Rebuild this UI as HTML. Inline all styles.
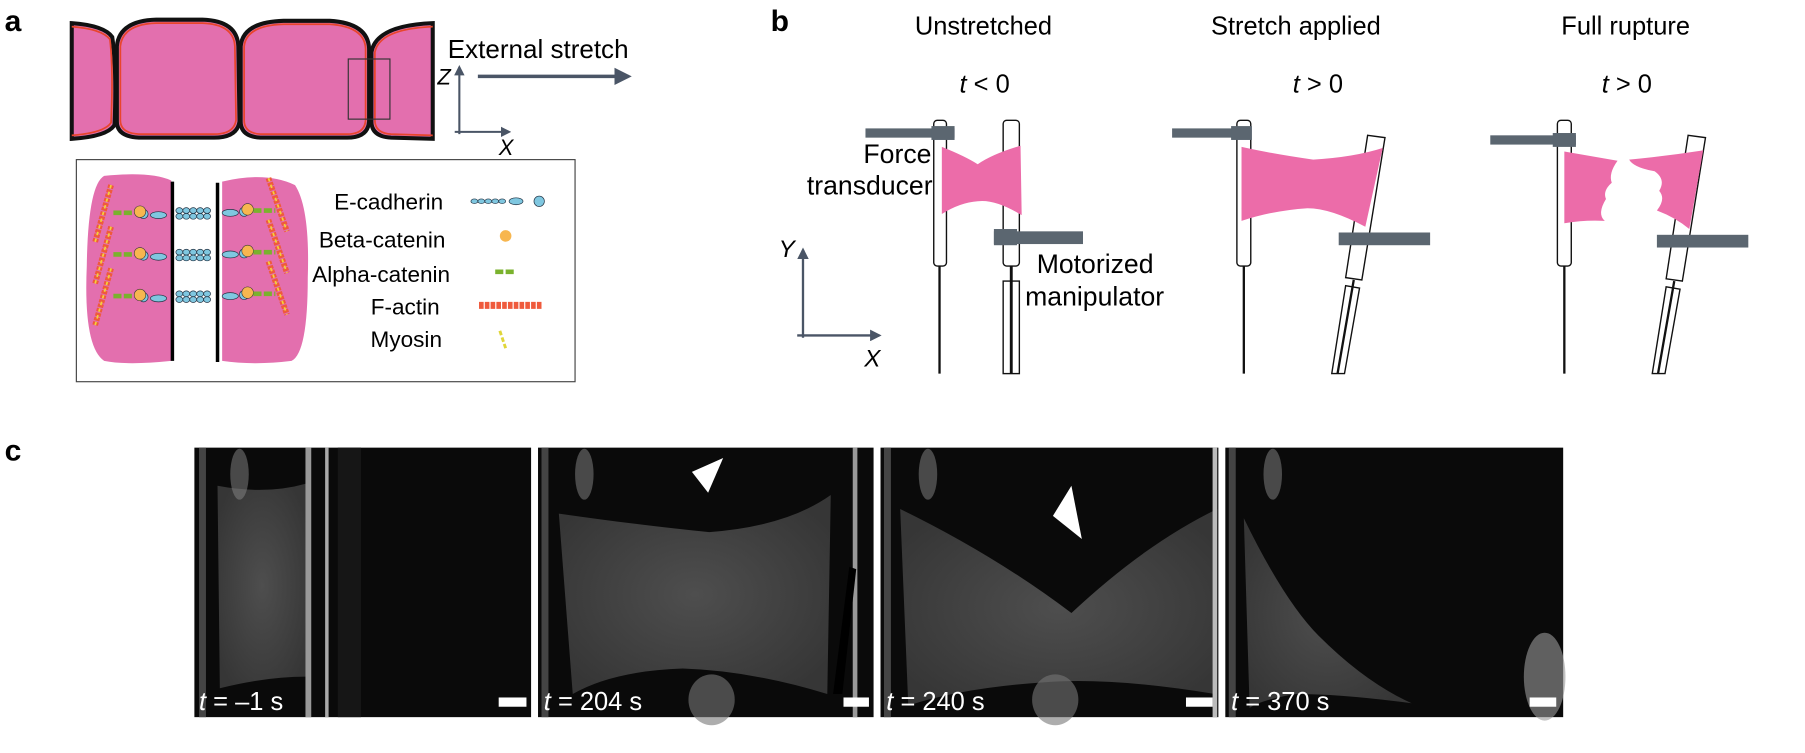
<!DOCTYPE html>
<html><head><meta charset="utf-8"><style>
html,body{margin:0;padding:0;background:#fff;}
svg{display:block;}
text{font-family:"Liberation Sans",sans-serif;}
</style></head><body>
<svg width="1805" height="753" viewBox="0 0 1560 651" preserveAspectRatio="none" xmlns="http://www.w3.org/2000/svg">
<defs>
<marker id="ah" viewBox="0 0 10 10" refX="8" refY="5" markerWidth="5" markerHeight="5" orient="auto"><path d="M0,0 L10,5 L0,10 z" fill="#4a5566"/></marker>
<radialGradient id="mem" cx="50%" cy="50%" r="60%"><stop offset="0" stop-color="#4e4e4e"/><stop offset="1" stop-color="#363636"/></radialGradient>
</defs>
<!-- Panel a -->
<text x="4" y="27" font-size="26" font-weight="bold">a</text>
<g stroke="#111" stroke-width="3.5" fill="#e36fae">
<path d="M62,20 Q90,22 97,32 Q101,60 99,108 Q93,118 62,120 Z"/>
<path d="M101,40 Q103,18 135,17 L175,17 Q205,18 206,40 L207,105 Q205,119 185,119 L120,119 Q101,118 101,105 Z"/>
<path d="M208,40 Q210,19 245,18 L285,18 Q318,20 319,42 L319,105 Q318,119 300,119 L225,119 Q208,118 208,105 Z"/>
<path d="M321,45 Q325,22 374,20 L374,120 L338,119 Q321,118 321,105 Z"/>
</g>
<g stroke="#e8452c" stroke-width="1.5" fill="none">
<path d="M62,23 Q88,25 95,34 Q98,60 96,106 Q90,115 62,117"/>
<path d="M104,40 Q106,21 135,20 L175,20 Q202,21 203,40 L204,104 Q202,116 185,116 L120,116 Q104,115 104,104 Z"/>
<path d="M211,40 Q213,22 245,21 L285,21 Q315,23 316,42 L316,104 Q315,116 300,116 L225,116 Q211,115 211,104 Z"/>
<path d="M374,23 Q328,25 324,45 L324,104 Q324,115 338,116 L374,117"/>
</g>
<rect x="301" y="51" width="36" height="52" fill="none" stroke="#333" stroke-width="1"/>
<text x="387" y="50" font-size="22.5">External stretch</text>
<line x1="413" y1="66" x2="543" y2="66" stroke="#4a5566" stroke-width="3" marker-end="url(#ah)"/>
<line x1="397" y1="116" x2="397" y2="58" stroke="#4a5566" stroke-width="1.8" marker-end="url(#ah)"/>
<line x1="393" y1="114" x2="440" y2="114" stroke="#4a5566" stroke-width="1.8" marker-end="url(#ah)"/>
<text x="378" y="73" font-size="19" font-style="italic">Z</text>
<text x="431" y="134" font-size="19" font-style="italic">X</text>
<rect x="66" y="138" width="431" height="192" fill="#fff" stroke="#444" stroke-width="1"/>
<path d="M90,152 Q130,148 148,156 L148,312 Q110,316 90,312 Q72,300 75,230 Q76,160 90,152 Z" fill="#e36fae"/>
<path d="M192,157 Q230,148 255,160 Q268,180 266,240 Q266,305 252,312 Q220,316 192,312 Z" fill="#e36fae"/>
<line x1="149" y1="157" x2="149" y2="312" stroke="#000" stroke-width="3"/>
<line x1="188" y1="158" x2="188" y2="313" stroke="#000" stroke-width="3"/>
<g>
<g id="row">
<g fill="#7fc7e0" stroke="#234" stroke-width="0.6">
<ellipse cx="155" cy="182" rx="3" ry="2.5"/><ellipse cx="161" cy="182" rx="3" ry="2.5"/><ellipse cx="167" cy="182" rx="3" ry="2.5"/><ellipse cx="173" cy="182" rx="3" ry="2.5"/><ellipse cx="179" cy="182" rx="3" ry="2.5"/>
<ellipse cx="155" cy="187" rx="3" ry="2.5"/><ellipse cx="161" cy="187" rx="3" ry="2.5"/><ellipse cx="167" cy="187" rx="3" ry="2.5"/><ellipse cx="173" cy="187" rx="3" ry="2.5"/><ellipse cx="179" cy="187" rx="3" ry="2.5"/>
<ellipse cx="137" cy="186" rx="7" ry="3"/><ellipse cx="199" cy="184" rx="7" ry="3"/>
<circle cx="124" cy="185" r="4"/><circle cx="211" cy="183" r="4"/>
</g>
<circle cx="121" cy="183" r="5" fill="#f7b64f" stroke="#333" stroke-width="0.5"/>
<circle cx="214" cy="181" r="5" fill="#f7b64f" stroke="#333" stroke-width="0.5"/>
<line x1="98" y1="184" x2="116" y2="184" stroke="#7ab22d" stroke-width="4" stroke-dasharray="7,2"/>
<line x1="219" y1="182" x2="238" y2="182" stroke="#7ab22d" stroke-width="4" stroke-dasharray="7,2"/>
<line x1="96" y1="160" x2="82" y2="210" stroke="#ef5a3c" stroke-width="5" stroke-dasharray="3,1"/>
<line x1="96" y1="160" x2="82" y2="210" stroke="#f3d23a" stroke-width="1.5" stroke-dasharray="3,3"/>
<line x1="232" y1="154" x2="248" y2="200" stroke="#ef5a3c" stroke-width="5" stroke-dasharray="3,1"/>
<line x1="232" y1="154" x2="248" y2="200" stroke="#f3d23a" stroke-width="1.5" stroke-dasharray="3,3"/>
</g>
<use href="#row" transform="translate(0,36)"/>
<use href="#row" transform="translate(0,72)"/>
</g>
<g font-size="19.5" text-anchor="end">
<text x="383" y="181">E-cadherin</text>
<text x="385" y="214">Beta-catenin</text>
<text x="389" y="244">Alpha-catenin</text>
<text x="380" y="272">F-actin</text>
<text x="382" y="300">Myosin</text>
</g>
<g fill="#7fc7e0" stroke="#234" stroke-width="0.6">
<ellipse cx="410" cy="174" rx="3" ry="2"/><ellipse cx="416" cy="174" rx="3" ry="2"/><ellipse cx="422" cy="174" rx="3" ry="2"/><ellipse cx="428" cy="174" rx="3" ry="2"/><ellipse cx="434" cy="174" rx="3" ry="2"/>
<ellipse cx="446" cy="174" rx="6" ry="3"/><circle cx="466" cy="174" r="4.5"/>
</g>
<circle cx="437" cy="204" r="5" fill="#f7b64f"/>
<line x1="428" y1="235" x2="444" y2="235" stroke="#7ab22d" stroke-width="4" stroke-dasharray="7,2"/>
<line x1="414" y1="264" x2="468" y2="264" stroke="#ef5a3c" stroke-width="6" stroke-dasharray="4,1"/>
<line x1="432" y1="286" x2="437" y2="301" stroke="#e0d63a" stroke-width="2.5" stroke-dasharray="4,2"/>

<!-- Panel b -->
<text x="666" y="27" font-size="26" font-weight="bold">b</text>
<g font-size="22" text-anchor="middle">
<text x="850" y="30">Unstretched</text>
<text x="1120" y="30">Stretch applied</text>
<text x="1405" y="30">Full rupture</text>
<text x="851" y="80"><tspan font-style="italic">t</tspan> &lt; 0</text>
<text x="1139" y="80"><tspan font-style="italic">t</tspan> &gt; 0</text>
<text x="1406" y="80"><tspan font-style="italic">t</tspan> &gt; 0</text>
</g>
<g fill="none" stroke="#111" stroke-width="1.2">
<rect x="807" y="104" width="11" height="126" rx="3"/>
<line x1="812" y1="230" x2="812" y2="323" stroke-width="2"/>
<rect x="867" y="104" width="14" height="126" rx="3"/>
<rect x="867" y="243" width="14" height="80"/>
<line x1="874" y1="230" x2="874" y2="323" stroke-width="2.5"/>
<rect x="1069" y="104" width="12" height="126" rx="3"/>
<line x1="1075" y1="230" x2="1075" y2="323" stroke-width="2"/>
<rect x="1346" y="104" width="12" height="126" rx="3"/>
<line x1="1352" y1="230" x2="1352" y2="323" stroke-width="2"/>
<path d="M1182,117 L1197,119 L1177,242 L1163,240 Z"/>
<path d="M1163,247 L1175,249 L1162,323 L1151,323 Z"/>
<line x1="1170" y1="242" x2="1156" y2="323" stroke-width="2"/>
<path d="M1459,117 L1474,119 L1454,243 L1440,241 Z"/>
<path d="M1440,248 L1452,250 L1439,323 L1428,323 Z"/>
<line x1="1447" y1="243" x2="1433" y2="323" stroke-width="2"/>
</g>
<path d="M814,127 Q834,135 845,142 Q858,133 882,126 L883,186 Q860,172 845,174 Q830,175 814,185 Z" fill="#ec6ca9"/>
<path d="M1073,127 Q1100,133 1135,138 Q1170,136 1195,128 L1180,196 Q1150,180 1130,180 Q1100,182 1073,191 Z" fill="#ec6ca9"/>
<path d="M1352,131 Q1375,135 1398,139 Q1390,150 1393,158 Q1385,165 1388,172 Q1380,185 1387,191 Q1370,190 1352,193 Z" fill="#ec6ca9"/>
<path d="M1408,138 Q1440,135 1472,130 L1460,198 Q1448,188 1432,182 Q1440,172 1434,165 Q1440,155 1430,148 Q1412,145 1408,138 Z" fill="#ec6ca9"/>
<g fill="#5b6670">
<rect x="748" y="111" width="77" height="8"/><rect x="805" y="109" width="20" height="12"/>
<rect x="859" y="200" width="77" height="11"/><rect x="859" y="198" width="20" height="14"/>
<rect x="1013" y="111" width="68" height="8"/><rect x="1064" y="109" width="18" height="12"/>
<rect x="1157" y="201" width="79" height="11"/>
<rect x="1288" y="117" width="74" height="8"/><rect x="1342" y="115" width="20" height="12"/>
<rect x="1432" y="203" width="79" height="11"/>
</g>
<g font-size="23">
<text x="805" y="141" text-anchor="end">Force</text>
<text x="806" y="168" text-anchor="end">transducer</text>
<text x="896" y="236">Motorized</text>
<text x="886" y="264">manipulator</text>
</g>
<line x1="694" y1="292" x2="694" y2="216" stroke="#4a5566" stroke-width="2" marker-end="url(#ah)"/>
<line x1="689" y1="290" x2="760" y2="290" stroke="#4a5566" stroke-width="2" marker-end="url(#ah)"/>
<text x="673" y="222" font-size="21" font-style="italic">Y</text>
<text x="747" y="317" font-size="21" font-style="italic">X</text>

<!-- Panel c -->
<text x="4" y="398" font-size="26" font-weight="bold">c</text>
<g>
<rect x="168" y="387" width="291" height="233" fill="#0a0a0a"/>
<rect x="465" y="387" width="290" height="233" fill="#0a0a0a"/>
<rect x="761" y="387" width="292" height="233" fill="#0a0a0a"/>
<rect x="1059" y="387" width="292" height="233" fill="#0a0a0a"/>
<!-- frame 1 -->
<path d="M188,420 Q230,428 265,418 L265,585 Q230,585 190,595 Z" fill="url(#mem)"/>
<rect x="172" y="387" width="6" height="233" fill="#444"/>
<rect x="264" y="387" width="5" height="233" fill="#999"/>
<rect x="281" y="387" width="3" height="233" fill="#aaa"/>
<rect x="292" y="387" width="20" height="233" fill="#161616"/>
<ellipse cx="207" cy="410" rx="8" ry="22" fill="#888" opacity="0.5"/>
<!-- frame 2 -->
<path d="M483,444 Q560,455 613,460 Q680,455 718,428 L715,600 Q650,580 590,578 Q530,580 495,600 Z" fill="url(#mem)"/>
<rect x="468" y="387" width="6" height="233" fill="#444"/>
<rect x="737" y="387" width="4" height="233" fill="#999"/>
<path d="M720,600 L734,490 L740,492 L728,600 Z" fill="#000"/>
<ellipse cx="615" cy="605" rx="20" ry="22" fill="#777" opacity="0.6"/>
<ellipse cx="505" cy="410" rx="8" ry="22" fill="#888" opacity="0.5"/>
<!-- frame 3 -->
<path d="M778,440 Q860,480 926,530 Q990,470 1052,440 L1050,600 Q960,585 900,590 Q830,595 785,610 Z" fill="url(#mem)"/>
<rect x="764" y="387" width="6" height="233" fill="#444"/>
<rect x="1048" y="387" width="4" height="233" fill="#bbb"/>
<ellipse cx="912" cy="605" rx="20" ry="22" fill="#777" opacity="0.6"/>
<ellipse cx="802" cy="410" rx="8" ry="22" fill="#888" opacity="0.5"/>
<!-- frame 4 -->
<path d="M1075,448 Q1110,520 1140,550 Q1180,590 1220,608 Q1160,600 1120,600 Q1090,605 1080,612 Z" fill="url(#mem)"/>
<rect x="1062" y="387" width="6" height="233" fill="#444"/>
<ellipse cx="1335" cy="585" rx="18" ry="38" fill="#999" opacity="0.6"/>
<ellipse cx="1100" cy="410" rx="8" ry="22" fill="#888" opacity="0.5"/>
<!-- arrowheads -->
<path d="M598,408 L625,396 L612,426 Z" fill="#fff"/>
<path d="M910,446 L926,420 L935,466 Z" fill="#fff"/>
<g fill="#fff" font-size="22">
<text x="172" y="614"><tspan font-style="italic">t</tspan> = –1 s</text>
<text x="470" y="614"><tspan font-style="italic">t</tspan> = 204 s</text>
<text x="766" y="614"><tspan font-style="italic">t</tspan> = 240 s</text>
<text x="1064" y="614"><tspan font-style="italic">t</tspan> = 370 s</text>
</g>
<g fill="#fff">
<rect x="431" y="603" width="24" height="8"/>
<rect x="729" y="603" width="22" height="8"/>
<rect x="1025" y="603" width="23" height="8"/>
<rect x="1322" y="603" width="23" height="8"/>
</g>
</g>
</svg>
</body></html>
